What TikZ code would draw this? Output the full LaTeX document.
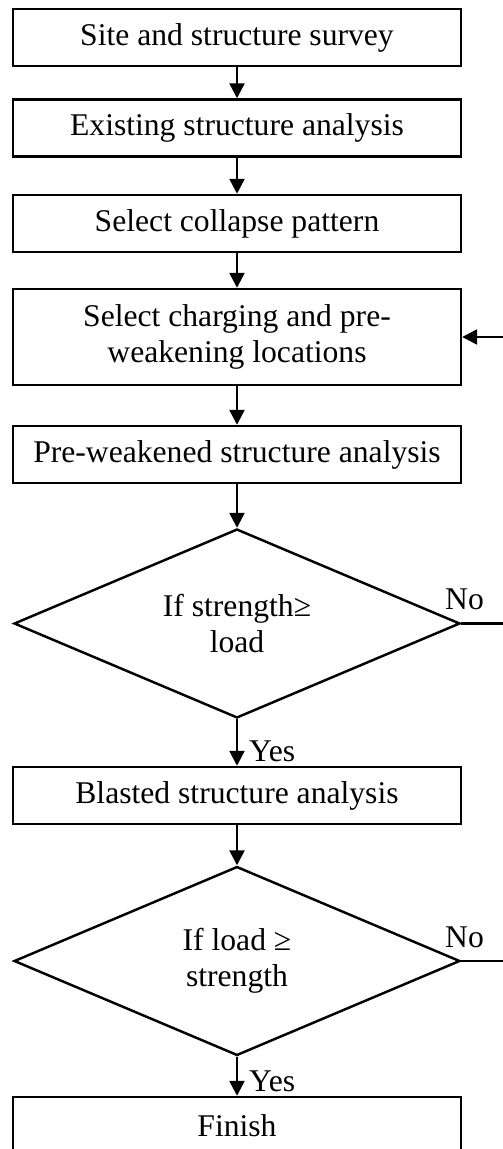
\documentclass[tikz,border=0pt]{standalone}
\usepackage{fontspec}
\setmainfont{Liberation Serif}
\usetikzlibrary{arrows.meta,shapes.geometric}

\begin{document}
\begin{tikzpicture}[
  x=0.02cm,y=-0.02cm,
  font=\fontsize{18}{20.5}\selectfont,
  process/.style={draw,line width=1.4pt,minimum width=8.96cm,minimum height=1.14cm,inner sep=0pt,align=center},
  decision/.style={draw,line width=1.4pt,diamond,aspect=2.36,minimum width=8.92cm,minimum height=3.78cm,inner sep=0pt,align=center},
  to/.style={-{Triangle[width=0.3cm,length=0.3cm]},line width=1.4pt},
  answer/.style={inner sep=0pt}]

  % Fix the page and cut off what runs past it
  \useasboundingbox (0,0) rectangle (503,1149);
  \clip (0,0) rectangle (503,1149);

  % Position the steps down the page
  \node[process] (survey) at (237,37.5) {Site and structure survey};
  \node[process] (existing) at (237,128) {Existing structure analysis};
  \node[process] (pattern) at (237,223.5) {Select collapse pattern};
  \node[process,minimum height=1.92cm] (charging) at (237,337) {Select charging and pre-\\weakening locations};
  \node[process] (preweak) at (237,454.5) {Pre-weakened structure analysis};
  \node[decision] (check1) at (237,623.5) {If strength≥\\load};
  \node[process] (blasted) at (237,795.5) {Blasted structure analysis};
  \node[decision] (check2) at (237,961) {If load ≥\\strength};
  \node[process] (finish) at (237,1125.5) {Finish};

  % Ends of the loops at the right edge
  \coordinate (no1) at (503,623.5);
  \coordinate (no2) at (503,961);
  \coordinate (back) at (503,337);

  % Draw the arrows between the steps
  \draw[to] (survey) -- (existing);
  \draw[to] (existing) -- (pattern);
  \draw[to] (pattern) -- (charging);
  \draw[to] (charging) -- (preweak);
  \draw[to] (preweak) -- (check1);
  \draw[to] (check1) -- node[answer,pos=0.68,anchor=west,xshift=0.22cm] {Yes} (blasted);
  \draw[to] (blasted) -- (check2);
  \draw[to] (check2) -- node[answer,pos=0.62,anchor=west,xshift=0.22cm] {Yes} (finish);
  \draw[line width=1.4pt] (check1.east) -- node[answer,pos=0.08,anchor=south,yshift=0.24cm] {No} (no1);
  \draw[line width=1.4pt] (check2.east) -- node[answer,pos=0.08,anchor=south,yshift=0.24cm] {No} (no2);
  \draw[to] (back) -- (charging.east);
\end{tikzpicture}
\end{document}
